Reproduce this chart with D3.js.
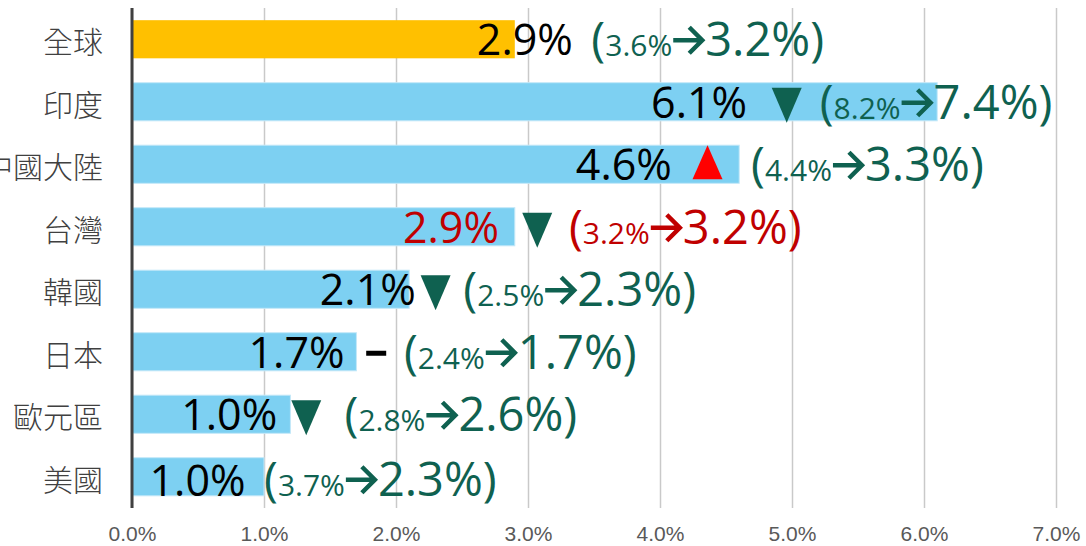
<!DOCTYPE html>
<html>
<head>
<meta charset="utf-8">
<script src="https://cdn.jsdelivr.net/npm/d3@7"></script>
<style>
  body { margin: 0; background: #fff; }
  svg { display: block; }
</style>
</head>
<body>
<svg id="canvas" width="1086" height="546"></svg>
<script>
let categories = ['全球', '印度', '中國大陸', '台灣', '韓國', '日本', '歐元區', '美國'];
let growth = [2.9, 6.1, 4.6, 2.9, 2.1, 1.7, 1.2, 1.0];
let growthText = ['2.9%', '6.1%', '4.6%', '2.9%', '2.1%', '1.7%', '1.0%', '1.0%'];
let prevForecast = ['3.6%', '8.2%', '4.4%', '3.2%', '2.5%', '2.4%', '2.8%', '3.7%'];
let newForecast = ['3.2%', '7.4%', '3.3%', '3.2%', '2.3%', '1.7%', '2.6%', '2.3%'];
let trend = ['', 'down', 'up', 'down', 'down', 'flat', 'down', ''];
let xTicks = [0, 1, 2, 3, 4, 5, 6, 7];

// where the labels sit, in axis units (label right end, marker centre, note start)
let labelEnd = [3.34, 4.66, 4.09, 2.78, 2.15, 1.61, 1.10, 0.86];
let markerAt = [0, 4.96, 4.36, 3.07, 2.30, 1.85, 1.32, 0];
let noteAt = [3.48, 5.21, 4.69, 3.31, 2.51, 2.06, 1.61, 1.00];

let green = '#0f6150';
let darkRed = '#c00000';

let canvas = d3.select('#canvas');

let x = d3.scaleLinear().domain([0, 7]).range([132, 1056]);
let y = d3.scaleBand().domain(categories).range([8, 508]).paddingInner(0.39).paddingOuter(0.195);

let rows = categories.map((c, i) => ({ i: i, name: c }));

// grid + ticks
let xAxis = d3.axisBottom(x).tickValues(xTicks).tickSize(-500).tickFormat((d) => d3.format('.1f')(d) + '%');
let gx = canvas.append('g')
    .attr('transform', 'translate(0,508)')
    .call(xAxis);
gx.select('.domain').remove();
gx.selectAll('.tick line')
    .attr('stroke', '#c9c9c9')
    .attr('stroke-width', 1.5);
gx.selectAll('.tick text')
    .attr('y', 33)
    .attr('dy', 0)
    .attr('fill', '#595959')
    .style('font-family', '"Liberation Sans", Arial, sans-serif')
    .style('font-size', '21px');

// bars
canvas.selectAll('rect.bar')
    .data(rows)
    .enter()
    .append('rect')
    .attr('class', 'bar')
    .attr('x', x(0))
    .attr('y', (d) => y(d.name))
    .attr('width', (d) => x(growth[d.i]) - x(0))
    .attr('height', y.bandwidth())
    .attr('fill', (d) => d.i === 0 ? '#ffc000' : '#7dd0f2')
    .attr('stroke', (d) => d.i === 0 ? 'none' : '#c4e8f8')
    .attr('stroke-width', 1);

// y axis line
canvas.append('line')
    .attr('x1', x(0)).attr('x2', x(0))
    .attr('y1', 8).attr('y2', 508)
    .attr('stroke', '#404040')
    .attr('stroke-width', 3);

let mid = (d) => y(d.name) + y.bandwidth() / 2;

// category labels
canvas.selectAll('text.cat')
    .data(rows)
    .enter()
    .append('text')
    .attr('class', 'cat')
    .attr('x', 103)
    .attr('y', (d) => mid(d) + 1)
    .attr('dominant-baseline', 'central')
    .attr('text-anchor', 'end')
    .attr('fill', '#404040')
    .style('font-family', '"Noto Sans CJK TC", "Noto Sans CJK SC", sans-serif')
    .style('font-size', '30px')
    .style('font-weight', 300)
    .text((d) => d.name);

// value labels
canvas.selectAll('text.val')
    .data(rows)
    .enter()
    .append('text')
    .attr('class', 'val')
    .attr('x', (d) => x(labelEnd[d.i]))
    .attr('y', (d) => mid(d) + (d.i === 7 ? 19 : 16))
    .attr('text-anchor', 'end')
    .attr('fill', (d) => d.i === 3 ? darkRed : '#000')
    .style('font-family', '"Open Sans", sans-serif')
    .style('font-size', '43px')
    .text((d) => growthText[d.i]);

// trend markers
rows.forEach((d) => {
    let t = trend[d.i];
    let cx = x(markerAt[d.i]);
    let cy = mid(d);
    if (t === 'down') {
        canvas.append('path')
            .attr('d', `M${cx - 15},${cy - 14} L${cx + 15},${cy - 14} L${cx},${cy + 21} Z`)
            .attr('fill', green);
    } else if (t === 'up') {
        canvas.append('path')
            .attr('d', `M${cx},${cy - 19} L${cx + 15},${cy + 15} L${cx - 15},${cy + 15} Z`)
            .attr('fill', '#ff0000');
    } else if (t === 'flat') {
        canvas.append('rect')
            .attr('x', cx - 10).attr('y', cy - 1)
            .attr('width', 20).attr('height', 5)
            .attr('fill', '#000');
    }
});

// forecast notes: (old → new)
rows.forEach((d) => {
    let col = d.i === 3 ? darkRed : green;
    let base = mid(d) + (d.i === 7 ? 19 : 17);
    let g = canvas.append('g');
    let cur = x(noteAt[d.i]);
    let piece = (txt, size) => {
        let t = g.append('text')
            .attr('x', cur)
            .attr('y', base)
            .attr('fill', col)
            .style('font-family', '"Open Sans", sans-serif')
            .style('font-size', size + 'px')
            .text(txt);
        cur += t.node().getComputedTextLength();
    };
    piece('(', 47);
    piece(prevForecast[d.i], 30);
    // arrow
    let ay = base - 16;
    g.append('path')
        .attr('d', `M${cur + 1},${ay} L${cur + 30},${ay} M${cur + 17},${ay - 13} L${cur + 30},${ay} L${cur + 17},${ay + 13}`)
        .attr('fill', 'none')
        .attr('stroke', col)
        .attr('stroke-width', 4.5)
        .attr('stroke-linejoin', 'miter');
    cur += 33;
    piece(newForecast[d.i], 47);
    piece(')', 47);
});
</script>
</body>
</html>
